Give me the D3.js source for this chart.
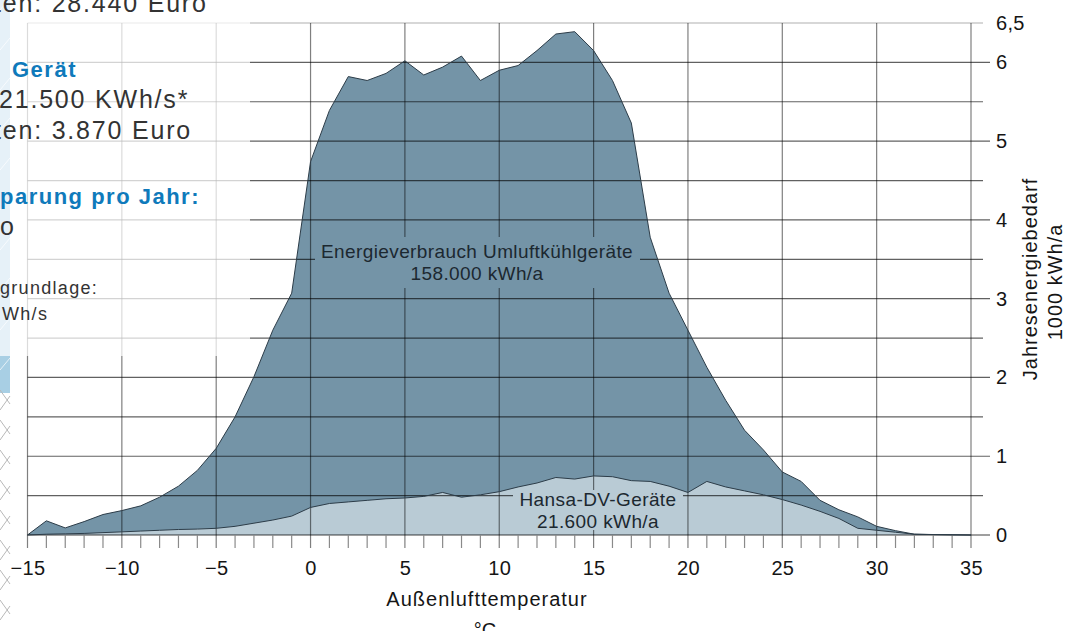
<!DOCTYPE html>
<html>
<head>
<meta charset="utf-8">
<script src="https://cdn.jsdelivr.net/npm/d3@7"></script>
<style>
body { margin: 0; background: #fff; }
svg { display: block; font-family: "Liberation Sans", Arial, sans-serif; }
</style>
</head>
<body>
<div id="chart"></div>
<script>
// temperatures -15 .. 35 °C
const temps = d3.range(-15, 36);
// Jahresenergiebedarf in 1000 kWh/a
const umluft = [0, 0.18, 0.09, 0.17, 0.26, 0.31, 0.37, 0.48, 0.62, 0.82,
    1.10, 1.50, 2.01, 2.60, 3.07, 4.74, 5.39, 5.82, 5.77, 5.86,
    6.02, 5.84, 5.94, 6.08, 5.77, 5.90, 5.96, 6.15, 6.36, 6.39,
    6.15, 5.77, 5.23, 3.78, 3.07, 2.60, 2.13, 1.71, 1.33, 1.08,
    0.80, 0.68, 0.44, 0.32, 0.23, 0.11, 0.055, 0.01, 0.006, 0.003, 0];
const hansa = [0, 0.01, 0.015, 0.02, 0.03, 0.04, 0.05, 0.06, 0.07, 0.075,
    0.085, 0.11, 0.15, 0.19, 0.24, 0.35, 0.40, 0.42, 0.44, 0.46,
    0.47, 0.49, 0.54, 0.48, 0.51, 0.55, 0.61, 0.66, 0.73, 0.71,
    0.75, 0.74, 0.69, 0.68, 0.62, 0.54, 0.68, 0.61, 0.56, 0.51,
    0.45, 0.38, 0.30, 0.21, 0.085, 0.06, 0.035, 0.01, 0.005, 0.002, 0];

const xTicks = [-15, -10, -5, 0, 5, 10, 15, 20, 25, 30, 35];
const yTicks = [0, 1, 2, 3, 4, 5, 6, 6.5];
const yTickLabels = ["0", "1", "2", "3", "4", "5", "6", "6,5"];
const yGrid = d3.range(0, 6.51, 0.5);

const labelUmluft = ["Energieverbrauch Umluftkühlgeräte", "158.000 kWh/a"];
const labelHansa = ["Hansa-DV-Geräte", "21.600 kWh/a"];
const xTitle = ["Außenlufttemperatur", "°C"];
const yTitle = ["Jahresenergiebedarf", "1000 kWh/a"];

// cut-off text fragments of the page on the left
const sideText = [
    { text: "ten: 28.440 Euro", x: -6, y: 12, kind: "body" },
    { text: "Gerät", x: 12, y: 77, kind: "head" },
    { text: "21.500 KWh/s*", x: -1, y: 108, kind: "body" },
    { text: "ten: 3.870 Euro", x: -6, y: 139, kind: "body" },
    { text: "parung pro Jahr:", x: 0, y: 204, kind: "head" },
    { text: "o", x: 0, y: 235, kind: "body" },
    { text: "grundlage:", x: 0, y: 294, kind: "small" },
    { text: "Wh/s", x: 2, y: 320, kind: "small" }
];

const W = 1067, H = 631;
const svg = d3.select("#chart").append("svg")
    .attr("width", W)
    .attr("height", H);

const x = d3.scaleLinear().domain([-15, 35]).range([27.5, 971]);
const y = d3.scaleLinear().domain([0, 6.5]).range([535, 23]);

const data = temps.map((t, i) => ({ t: t, u: umluft[i], h: hansa[i] }));

// mask so grid lines stop around the two area labels
const defs = svg.append("defs");
const mask = defs.append("mask").attr("id", "gridmask");
mask.append("rect").attr("width", W).attr("height", H).attr("fill", "#fff");
mask.append("rect").attr("x", 315).attr("y", 237).attr("width", 325).attr("height", 51).attr("fill", "#000");
mask.append("rect").attr("x", 513).attr("y", 490).attr("width", 170).attr("height", 40).attr("fill", "#000");

// areas
const areaU = d3.area().x(d => x(d.t)).y0(y(0)).y1(d => y(d.u));
const areaH = d3.area().x(d => x(d.t)).y0(y(0)).y1(d => y(d.h));
const lineU = d3.line().x(d => x(d.t)).y(d => y(d.u));
const lineH = d3.line().x(d => x(d.t)).y(d => y(d.h));

svg.append("path").datum(data).attr("d", areaU).attr("fill", "#7494a7");
svg.append("path").datum(data).attr("d", areaH).attr("fill", "#b9cbd5");

// grid
const grid = svg.append("g").attr("mask", "url(#gridmask)");
grid.selectAll("line.h")
    .data(yGrid)
    .enter()
    .append("line")
    .attr("class", "h")
    .attr("x1", x(-15))
    .attr("x2", d => x(35) + (d % 1 === 0 ? 19 : 12))
    .attr("y1", d => y(d))
    .attr("y2", d => y(d))
    .attr("stroke", d => d === 6.5 ? "#b0b0b0" : "#000")
    .attr("stroke-opacity", d => d === 6.5 ? 1 : (d === 0 ? 0.75 : 0.62))
    .attr("stroke-width", 1.2);

grid.selectAll("line.v")
    .data(xTicks)
    .enter()
    .append("line")
    .attr("class", "v")
    .attr("x1", d => x(d))
    .attr("x2", d => x(d))
    .attr("y1", y(6.5))
    .attr("y2", y(0) + 13)
    .attr("stroke", "#000")
    .attr("stroke-opacity", 0.5)
    .attr("stroke-width", 1.2);

// minor ticks every degree
svg.append("g").selectAll("line")
    .data(temps.filter(t => t % 5 !== 0))
    .enter()
    .append("line")
    .attr("x1", d => x(d))
    .attr("x2", d => x(d))
    .attr("y1", y(0))
    .attr("y2", y(0) + 13)
    .attr("stroke", "#8a8a8a")
    .attr("stroke-width", 1.2);

// outlines
svg.append("path").datum(data).attr("d", lineU)
    .attr("fill", "none").attr("stroke", "#2c3c48").attr("stroke-width", 1);
svg.append("path").datum(data).attr("d", lineH)
    .attr("fill", "none").attr("stroke", "#2c3c48").attr("stroke-width", 1);

// x axis labels
const xAxis = d3.axisBottom(x).tickValues(xTicks).tickSize(0).tickPadding(0)
    .tickFormat(d => d < 0 ? "\u2212" + Math.abs(d) : String(d));
const gx = svg.append("g").attr("transform", "translate(0," + y(0) + ")").call(xAxis);
gx.select(".domain").remove();
gx.selectAll("text")
    .attr("y", 40).attr("dy", null)
    .attr("font-size", 20).attr("letter-spacing", 0.3)
    .attr("fill", "#151515")
    .attr("font-family", "Liberation Sans, Arial, sans-serif");

// y axis labels (right)
svg.append("g").selectAll("text")
    .data(yTicks)
    .enter()
    .append("text")
    .attr("x", 996)
    .attr("y", d => y(d) + 7)
    .attr("font-size", 20)
    .attr("letter-spacing", 0.3)
    .attr("fill", "#151515")
    .text((d, i) => yTickLabels[i]);

// axis titles
svg.append("text")
    .attr("x", 487).attr("y", 606)
    .attr("text-anchor", "middle")
    .attr("font-size", 20).attr("letter-spacing", 1)
    .attr("fill", "#151515")
    .text(xTitle[0]);
svg.append("text")
    .attr("x", 485).attr("y", 637)
    .attr("text-anchor", "middle")
    .attr("font-size", 20)
    .attr("fill", "#151515")
    .text(xTitle[1]);

svg.append("text")
    .attr("transform", "translate(1037,279) rotate(-90)")
    .attr("text-anchor", "middle")
    .attr("font-size", 20).attr("letter-spacing", 1)
    .attr("fill", "#151515")
    .text(yTitle[0]);
svg.append("text")
    .attr("transform", "translate(1062,282) rotate(-90)")
    .attr("text-anchor", "middle")
    .attr("font-size", 20).attr("letter-spacing", 1)
    .attr("fill", "#151515")
    .text(yTitle[1]);

// area labels
svg.append("g").selectAll("text")
    .data(labelUmluft)
    .enter()
    .append("text")
    .attr("x", 477)
    .attr("y", (d, i) => 258 + i * 22)
    .attr("text-anchor", "middle")
    .attr("font-size", 19).attr("letter-spacing", 0.4)
    .attr("fill", "#1c2830")
    .text(d => d);

svg.append("g").selectAll("text")
    .data(labelHansa)
    .enter()
    .append("text")
    .attr("x", 598)
    .attr("y", (d, i) => 506 + i * 22)
    .attr("text-anchor", "middle")
    .attr("font-size", 19).attr("letter-spacing", 0.4)
    .attr("fill", "#1c2830")
    .text(d => d);

// page overlay on the upper left (text box of the brochure)
svg.append("rect")
    .attr("x", 10).attr("y", 0)
    .attr("width", 240).attr("height", 356)
    .attr("fill", "#fff").attr("fill-opacity", 0.72);

// decorative strip on the left edge
svg.append("rect").attr("x", 0).attr("y", 0).attr("width", 10).attr("height", 356).attr("fill", "#e6f1f8");
svg.append("rect").attr("x", 0).attr("y", 356).attr("width", 10).attr("height", 37).attr("fill", "#a8cfe4");
const strip = svg.append("g").attr("stroke", "#b8b8b8").attr("stroke-width", 1);
d3.range(400, 640, 30).forEach(v => {
    strip.append("line").attr("x1", 0).attr("y1", v - 10).attr("x2", 10).attr("y2", v + 4);
    strip.append("line").attr("x1", 0).attr("y1", v + 10).attr("x2", 10).attr("y2", v - 4);
});
const stripTop = svg.append("g").attr("stroke", "#fff").attr("stroke-opacity", 0.7).attr("stroke-width", 1);
d3.range(10, 400, 40).forEach(v => {
    stripTop.append("line").attr("x1", 0).attr("y1", v).attr("x2", 10).attr("y2", v - 12);
});

// side text fragments
svg.append("g").selectAll("text")
    .data(sideText)
    .enter()
    .append("text")
    .attr("x", d => d.x)
    .attr("y", d => d.y)
    .attr("font-size", d => d.kind === "small" ? 18 : (d.kind === "head" ? 22 : 25))
    .attr("font-weight", d => d.kind === "head" ? "bold" : "normal")
    .attr("letter-spacing", d => d.kind === "head" ? 1.5 : (d.kind === "small" ? 1.3 : 1.8))
    .attr("fill", d => d.kind === "head" ? "#0f7abb" : "#333")
    .text(d => d.text);
</script>
</body>
</html>
